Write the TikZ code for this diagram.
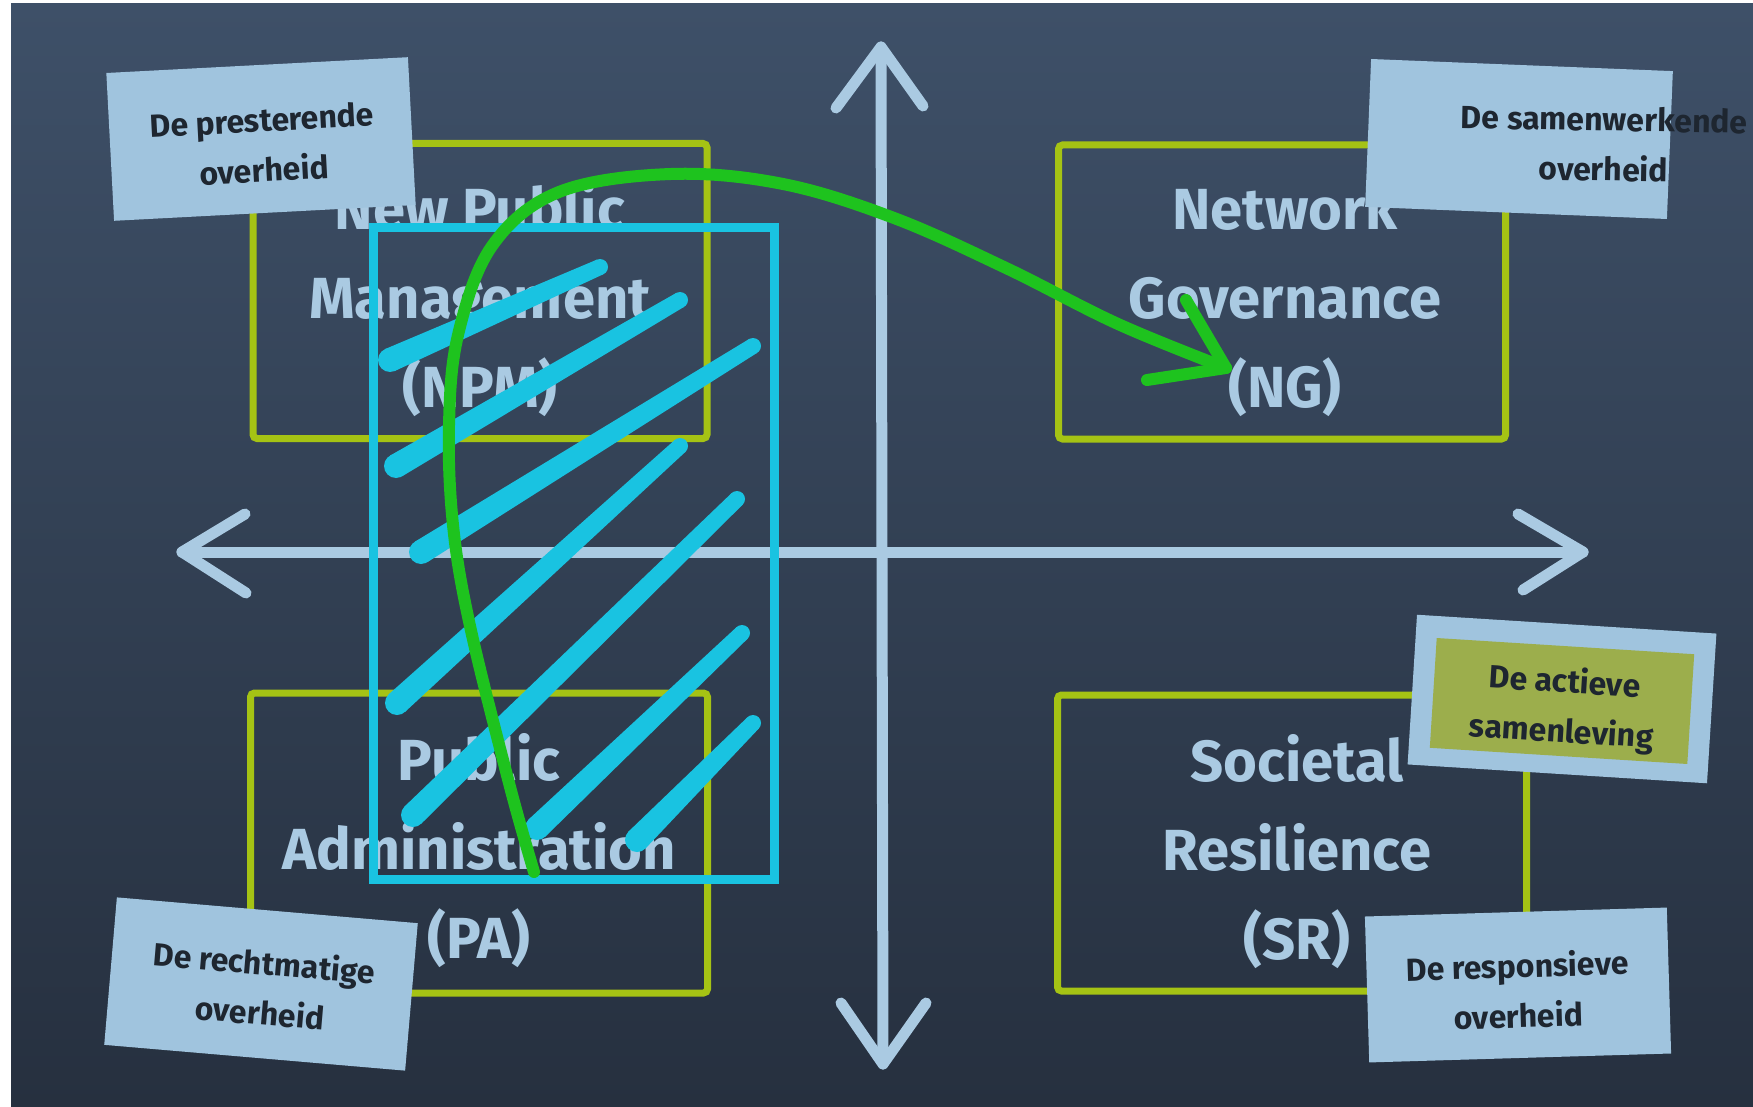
\documentclass[tikz,border=0pt]{standalone}
\usepackage{fontspec}
\newfontfamily\lblfont{Fira Sans}
\usetikzlibrary{calc}
\definecolor{boardtop}{RGB}{62,80,104}
\definecolor{boardbot}{RGB}{38,48,63}
\definecolor{chalkblue}{RGB}{170,202,226}
\definecolor{ygreen}{RGB}{165,195,20}
\definecolor{cyanchalk}{RGB}{25,195,225}
\definecolor{greenchalk}{RGB}{30,195,30}
\definecolor{noteblue}{RGB}{160,196,222}
\definecolor{olive}{RGB}{156,174,76}
\definecolor{notetext}{RGB}{30,38,48}
\begin{document}
\begin{tikzpicture}[x=1pt,y=-1pt,
  axisline/.style={draw=chalkblue,line width=11pt,line cap=round,line join=round},
  quadbox/.style={draw=ygreen,line width=7pt,rounded corners=4pt,inner sep=0pt},
  quadlabel/.style={text=chalkblue,align=center,inner sep=0pt,
    font=\lblfont\bfseries\fontsize{58}{89}\selectfont},
  stickynote/.style={fill=noteblue,inner sep=0pt,minimum width=302pt,minimum height=148pt},
  notelabel/.style={text=notetext,align=center,inner sep=0pt,
    font=\lblfont\bfseries\fontsize{32}{50}\selectfont},
  hatchframe/.style={draw=cyanchalk,line width=9pt,inner sep=0pt},
  greenline/.style={draw=greenchalk,line width=12pt,line cap=round,line join=round}]
\useasboundingbox (0,0) rectangle (1753,1107);
\fill[white] (0,0) rectangle (1753,1107);
\shade[top color=boardtop,bottom color=boardbot] (11,4) rectangle (1753,1107);

% axes
\coordinate (vtop) at (881,47);
\coordinate (vbot) at (883,1064);
\coordinate (hleft) at (182,552);
\coordinate (hright) at (1583,552);
\draw[axisline] (vtop) -- (vbot);
\draw[axisline] (hleft) -- (hright);
\draw[axisline] (836,108) -- (vtop) -- (923,106);
\draw[axisline] (841,1003) -- (vbot) -- (926,1003);
\draw[axisline] (245,514) -- (hleft) -- (246,593);
\draw[axisline] (1518,514) -- (hright) -- (1523,590);

% quadrant boxes
\node[quadbox,minimum width=454pt,minimum height=295pt] (npm) at (480,291) {};
\node[quadbox,minimum width=447pt,minimum height=294pt] (ng) at (1282,292) {};
\node[quadbox,minimum width=457pt,minimum height=300pt] (pa) at (479,843) {};
\node[quadbox,minimum width=469pt,minimum height=296pt] (sr) at (1292,843) {};
\node[quadlabel] (npmtext) at (480,300) {New Public\\Management\\(NPM)};
\node[quadlabel] (ngtext) at (1285,301) {Network\\Governance\\(NG)};
\node[quadlabel] (patext) at (479,851) {Public\\Administration\\(PA)};
\node[quadlabel] (srtext) at (1297,852) {Societal\\Resilience\\(SR)};

% cyan hatched frame
\node[hatchframe,minimum width=401pt,minimum height=651pt] (frame) at (573.5,553.5) {};
\foreach \ax/\ay/\bx/\by in {390/360/600/267, 396/466/680/300, 421/552/753/346,
    397/703/680/446, 413/815/737/499, 537/828/742/633, 637/840/753/723}{
  \coordinate (ha) at (\ax,\ay);
  \coordinate (hb) at (\bx,\by);
  \fill[cyanchalk] ($(ha)!12pt!90:(hb)$) -- ($(hb)!8pt!-90:(ha)$)
     -- ($(hb)!8pt!90:(ha)$) -- ($(ha)!12pt!-90:(hb)$) -- cycle;
  \fill[cyanchalk] (ha) circle[radius=12pt];
  \fill[cyanchalk] (hb) circle[radius=8pt];
}

% green arrow
\coordinate (gstart) at (534,872);
\coordinate (gtip) at (1226,368);
\draw[greenline] plot[smooth,tension=0.6] coordinates {(gstart) (509,783) (470,626) (453,525) (449,425) (458,335) (492,246) (559,192) (671,174) (783,184) (894,218) (1006,268) (1118,324) (gtip)};
\draw[greenline] (1186,300) -- (gtip) -- (1147,380);

% sticky notes
\node[stickynote,rotate=3] (npres) at (261,139) {};
\node[notelabel,rotate=3] (tpres) at (263,145) {De presterende\\overheid};
\node[stickynote,rotate=-2.3] (nsam) at (1519,139) {};
\node[notelabel,rotate=-1] (tsam) at (1604,144) {De samenwerkende\\overheid};
\node[stickynote,rotate=-4.9] (nrecht) at (261,984) {};
\node[notelabel,rotate=-4.9] (trecht) at (262,987) {De rechtmatige\\overheid};
\node[stickynote,rotate=1.7,minimum height=146pt] (nresp) at (1518,985) {};
\node[notelabel,rotate=1.7] (tresp) at (1518,990) {De responsieve\\overheid};
\node[stickynote,rotate=-3.6,minimum width=300pt,minimum height=150pt] (nact) at (1562,699) {};
\node[stickynote,fill=olive,rotate=-3.6,minimum width=258pt,minimum height=110pt] (iact) at (1562,701) {};
\node[notelabel,rotate=-3.6] (tact) at (1563,708) {De actieve\\samenleving};
\end{tikzpicture}
\end{document}
